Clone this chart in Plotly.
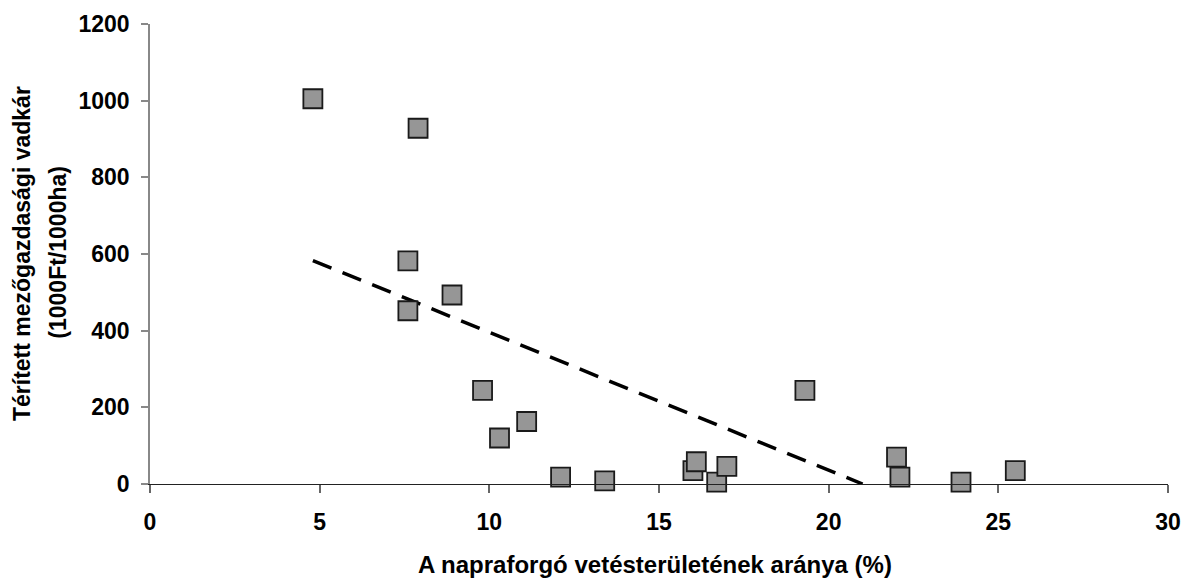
import plotly.graph_objects as go

# ── adatok (leolvasva az ábráról) ──────────────────────────────────────────
napraforgo_arany = [4.8, 7.9, 7.6, 7.6, 8.9, 9.8, 10.3, 11.1, 12.1, 13.4,
                    16.0, 16.1, 16.7, 17.0, 19.3, 22.0, 22.1, 23.9, 25.5]
vadkar = [1005, 928, 582, 452, 493, 244, 120, 163, 18, 8,
          35, 58, 5, 46, 244, 70, 18, 5, 35]

# lineáris trendvonal végpontjai
trend_x = [4.8, 21.0]
trend_y = [583, 0]

x_ticks = [0, 5, 10, 15, 20, 25, 30]
y_ticks = [0, 200, 400, 600, 800, 1000, 1200]

FONT = 'Liberation Sans, Arial, sans-serif'

fig = go.Figure()

fig.add_trace(go.Scatter(
    x=trend_x, y=trend_y, mode='lines',
    line=dict(color='#000000', width=3.5, dash='20px,12px'),
    showlegend=False, hoverinfo='skip'
))

fig.add_trace(go.Scatter(
    x=napraforgo_arany, y=vadkar, mode='markers',
    marker=dict(symbol='square', size=19, color='#969696',
                line=dict(color='#1a1a1a', width=1.8)),
    showlegend=False, cliponaxis=False
))

fig.update_layout(
    width=1182, height=579,
    plot_bgcolor='white', paper_bgcolor='white',
    margin=dict(l=150, r=14, t=24, b=95),
    font=dict(family=FONT, color='black'),
    annotations=[
        dict(text='<b>Térített mezőgazdasági vadkár</b>', textangle=-90,
             x=-0.1257, y=0.5, xref='paper', yref='paper',
             xanchor='center', yanchor='middle', showarrow=False,
             font=dict(family=FONT, size=23, color='black')),
        dict(text='<b>(1000Ft/1000ha)</b>', textangle=-90,
             x=-0.0904, y=0.505, xref='paper', yref='paper',
             xanchor='center', yanchor='middle', showarrow=False,
             font=dict(family=FONT, size=23, color='black')),
        dict(text='<b>A napraforgó vetésterületének aránya (%)</b>',
             x=0.496, y=-0.176, xref='paper', yref='paper',
             xanchor='center', yanchor='middle', showarrow=False,
             font=dict(family=FONT, size=24, color='black')),
    ],
)

fig.update_xaxes(
    range=[0, 30], tickvals=x_ticks, ticktext=[str(v) for v in x_ticks],
    showgrid=False, zeroline=False, automargin=False,
    showline=True, linecolor='#222222', linewidth=1.3,
    ticks='outside', ticklen=8, tickcolor='#666666', tickwidth=1.5,
    tickfont=dict(family=FONT, size=23, color='black', weight='bold'),
    ticklabelstandoff=9, ticklabeloverflow='allow',
)

fig.update_yaxes(
    range=[0, 1200], tickvals=y_ticks, ticktext=[str(v) for v in y_ticks],
    showgrid=False, zeroline=False, automargin=False,
    showline=True, linecolor='#888888', linewidth=1.5,
    ticks='outside', ticklen=7, tickcolor='#888888', tickwidth=1.5,
    tickfont=dict(family=FONT, size=23, color='black', weight='bold'),
    ticklabelstandoff=7,
)

# body margó nullázása + görgetősávok tiltása, hogy az ábra pontosan kitöltse az ablakot
fig.write_html(
    'out.html',
    config={'displayModeBar': False},
    post_script=("document.body.style.margin='0';"
                 "document.body.style.overflow='hidden';"
                 "document.documentElement.style.overflow='hidden';"),
)
